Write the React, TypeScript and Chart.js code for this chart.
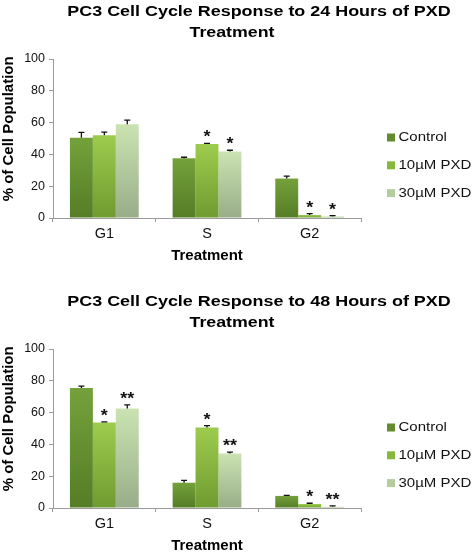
import React, { useEffect, useRef } from "react";
import { Chart, registerables } from "chart.js";

Chart.register(...registerables);

const categories = ["G1", "S", "G2"];
const seriesLabels = ["Control", "10µM PXD", "30µM PXD"];
const yTickStep = 20;
const yAxisTitle = "% of Cell Population";
const xAxisTitle = "Treatment";

// 24 hours
const title24 = ["PC3 Cell Cycle Response to 24 Hours of PXD", "Treatment"];
const control24 = [50.4, 37.6, 24.8];
const pxd10_24 = [52.0, 46.5, 1.9];
const pxd30_24 = [59.0, 41.8, 1.0];
const control24Err = [3.5, 0.6, 1.5];
const pxd10_24Err = [2.0, 0.4, 0.8];
const pxd30_24Err = [2.6, 0.8, 0.5];
const control24Stars = ["", "", ""];
const pxd10_24Stars = ["", "*", "*"];
const pxd30_24Stars = ["", "*", "*"];

// 48 hours
const title48 = ["PC3 Cell Cycle Response to 48 Hours of PXD", "Treatment"];
const control48 = [75.4, 15.9, 7.6];
const pxd10_48 = [53.7, 50.7, 2.5];
const pxd30_48 = [62.6, 34.2, 0.8];
const control48Err = [1.2, 1.5, 0.3];
const pxd10_48Err = [0.5, 1.1, 0.5];
const pxd30_48Err = [2.2, 0.9, 0.5];
const control48Stars = ["", "", ""];
const pxd10_48Stars = ["*", "*", "*"];
const pxd30_48Stars = ["**", "**", "**"];

const FONT = "'Liberation Sans', Arial, Helvetica, sans-serif";
const gradTop = ["#74a13b", "#9dcc4d", "#cbe3b2"];
const gradBottom = ["#557d26", "#6f9b30", "#98ad88"];
const legendColors = ["#628c2e", "#86b83c", "#b5cc9e"];

type Props = {
  title: string[];
  series: number[][];
  errors: number[][];
  stars: string[][];
};

function PanelChart({ title, series, errors, stars }: Props) {
  const ref = useRef<HTMLCanvasElement | null>(null);
  useEffect(() => {
    if (!ref.current) return;
    const stretchText = (ctx: any, text: string, x: number, y: number, sx: number) => {
      ctx.save();
      ctx.translate(x, y);
      ctx.scale(sx, 1);
      ctx.fillText(text, 0, 0);
      ctx.restore();
    };
    const overlay = {
      id: "overlay",
      afterDatasetsDraw(chart: any) {
        const ctx = chart.ctx;
        const y = chart.scales.y;
        ctx.save();
        chart.data.datasets.forEach((ds: any, i: number) => {
          const meta = chart.getDatasetMeta(i);
          meta.data.forEach((bar: any, j: number) => {
            const v = ds.data[j];
            const top = y.getPixelForValue(v + errors[i][j]);
            ctx.strokeStyle = "#111";
            ctx.lineWidth = 1.3;
            ctx.beginPath();
            ctx.moveTo(bar.x, bar.y);
            ctx.lineTo(bar.x, top);
            ctx.moveTo(bar.x - 3, top);
            ctx.lineTo(bar.x + 3, top);
            ctx.stroke();
            const s = stars[i][j];
            if (s) {
              ctx.fillStyle = "#111";
              ctx.font = `bold 16px ${FONT}`;
              ctx.textAlign = "center";
              ctx.textBaseline = "alphabetic";
              stretchText(ctx, s, bar.x, top - 1, 1.12);
            }
          });
        });
        ctx.restore();
      },
      afterDraw(chart: any) {
        const ctx = chart.ctx;
        ctx.save();
        ctx.fillStyle = "#000";
        ctx.font = `bold 14px ${FONT}`;
        ctx.textAlign = "center";
        ctx.textBaseline = "alphabetic";
        stretchText(ctx, title[0], 259, 16.3, 1.28);
        stretchText(ctx, title[1], 232, 36.7, 1.27);
        // y axis title
        ctx.save();
        ctx.translate(8.5, 128.8);
        ctx.rotate(-Math.PI / 2);
        ctx.font = `bold 15px ${FONT}`;
        ctx.textBaseline = "middle";
        ctx.fillText(yAxisTitle, 0, 0);
        ctx.restore();
        // legend
        ctx.font = `12px ${FONT}`;
        ctx.textAlign = "left";
        ctx.textBaseline = "middle";
        chart.data.datasets.forEach((ds: any, i: number) => {
          const yc = 137.5 + i * 27.8;
          ctx.fillStyle = legendColors[i];
          ctx.fillRect(387, yc - 4, 8, 8);
          ctx.fillStyle = "#111";
          stretchText(ctx, ds.label, 398.5, yc + 0.5, 1.25);
        });
        ctx.restore();
      },
    };

    const makeBg = (i: number) => (c: any) => {
      const chart = c.chart;
      const ca = chart.chartArea;
      if (!ca || c.type !== "data" || !chart.scales.y) return legendColors[i];
      const yTop = chart.scales.y.getPixelForValue(c.raw);
      const yBot = chart.scales.y.getPixelForValue(0);
      if (!isFinite(yTop) || !isFinite(yBot) || yBot - yTop < 1) return gradTop[i];
      const g = chart.ctx.createLinearGradient(0, yTop, 0, yBot);
      g.addColorStop(0, gradTop[i]);
      g.addColorStop(1, gradBottom[i]);
      return g;
    };

    const chart = new Chart(ref.current, {
      type: "bar",
      data: {
        labels: categories,
        datasets: series.map((d, i) => ({
          label: seriesLabels[i],
          data: d,
          backgroundColor: makeBg(i),
          borderWidth: 0,
          categoryPercentage: 0.67,
          barPercentage: 1.0,
        })),
      },
      options: {
        responsive: false,
        animation: false,
        events: [],
        layout: { padding: { top: 59, right: 111, bottom: 0, left: 0 } },
        plugins: {
          legend: { display: false },
          title: { display: false },
          tooltip: { enabled: false },
        },
        scales: {
          x: {
            afterFit: (s: any) => {
              s.height = 72;
            },
            grid: {
              display: true,
              drawOnChartArea: false,
              drawTicks: true,
              tickLength: 4,
              offset: true,
              color: "#9a9a9a",
            },
            border: { display: true, color: "#9a9a9a", width: 1 },
            ticks: { color: "#111", padding: 3, font: { family: FONT, size: 14.5 } },
            title: {
              display: true,
              text: xAxisTitle,
              color: "#000",
              font: { family: FONT, size: 15, weight: "bold" },
              padding: { top: 0, bottom: 25 },
            },
          },
          y: {
            min: 0,
            max: 100,
            afterFit: (s: any) => {
              s.width = 53;
            },
            grid: {
              display: true,
              drawOnChartArea: false,
              drawTicks: true,
              tickLength: 4,
              color: "#9a9a9a",
            },
            border: { display: true, color: "#9a9a9a", width: 1 },
            ticks: {
              stepSize: yTickStep,
              color: "#111",
              padding: 4,
              font: { family: FONT, size: 12.5 },
            },
            title: { display: false },
          },
        },
      },
      plugins: [overlay],
    } as any);
    return () => chart.destroy();
  }, [title, series, errors, stars]);
  return <canvas ref={ref} width={472} height={290} style={{ display: "block" }} />;
}

const series24 = [control24, pxd10_24, pxd30_24];
const errors24 = [control24Err, pxd10_24Err, pxd30_24Err];
const stars24 = [control24Stars, pxd10_24Stars, pxd30_24Stars];
const series48 = [control48, pxd10_48, pxd30_48];
const errors48 = [control48Err, pxd10_48Err, pxd30_48Err];
const stars48 = [control48Stars, pxd10_48Stars, pxd30_48Stars];

export default function App() {
  return (
    <div
      style={{
        position: "fixed",
        left: 0,
        top: 0,
        width: 472,
        height: 554,
        overflow: "hidden",
        background: "#fff",
      }}
    >
      <div style={{ position: "absolute", left: 0, top: 0 }}>
        <PanelChart title={title24} series={series24} errors={errors24} stars={stars24} />
      </div>
      <div style={{ position: "absolute", left: 0, top: 290 }}>
        <PanelChart title={title48} series={series48} errors={errors48} stars={stars48} />
      </div>
    </div>
  );
}
